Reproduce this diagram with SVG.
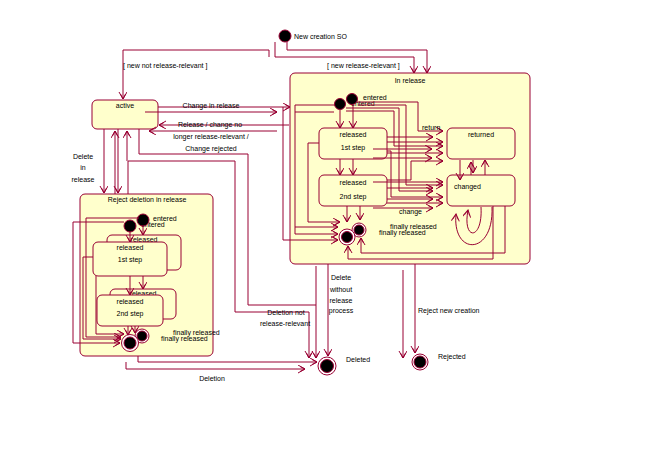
<svg xmlns="http://www.w3.org/2000/svg" width="662" height="465" viewBox="0 0 662 465">
<defs>
<marker id="a" markerWidth="10" markerHeight="10" refX="8" refY="4" orient="auto" markerUnits="userSpaceOnUse"><path d="M1,0 L8,4 L1,8 M3,1.5 L8,4 M3,6.5 L8,4" fill="none" stroke="#990033" stroke-width="1"/></marker>
</defs>
<style>
.s{fill:#FFFFCC;stroke:#990033;stroke-width:1}
.c{fill:none;stroke:#990033;stroke-width:1}
.ca{fill:none;stroke:#990033;stroke-width:1;marker-end:url(#a)}
text{font-family:"Liberation Sans",Arial,sans-serif;font-size:7px;fill:#000}
.m{text-anchor:middle}
.dot{fill:#000;stroke:#990033;stroke-width:1}
.fo{fill:#fff;stroke:#990033;stroke-width:1}
</style>
<rect width="662" height="465" fill="#fff"/>

<g id="initial"><circle class="dot" cx="285" cy="36" r="6"/><text x="294" y="39">New creation SO</text></g>
<g id="active"><rect class="s" x="92" y="100" width="66" height="29" rx="5"/><text class="m" x="125" y="108">active</text></g>

<g id="in_release"><rect class="s" x="290" y="73" width="240" height="191" rx="5"/><text class="m" x="410" y="83">In release</text></g>
<g id="ir_released1"><rect class="s" x="319" y="128" width="68" height="31" rx="5"/><text class="m" x="353" y="137">released</text><text class="m" x="353" y="150">1st step</text></g>
<g id="ir_released2"><rect class="s" x="319" y="175" width="68" height="31" rx="5"/><text class="m" x="353" y="185">released</text><text class="m" x="353" y="199">2nd step</text></g>
<g id="ir_returned"><rect class="s" x="447" y="128" width="68" height="31" rx="5"/><text class="m" x="481" y="137">returned</text></g>
<g id="ir_changed"><rect class="s" x="447" y="175" width="68" height="31" rx="5"/><text x="454" y="189">changed</text></g>
<g id="ir_entry"><text x="363" y="100">entered</text><text x="351" y="106">entered</text><circle class="dot" cx="352" cy="99" r="5.5"/><circle class="dot" cx="340" cy="104" r="5.5"/></g>
<g id="ir_final"><circle class="fo" cx="359" cy="230" r="7"/><circle class="dot" cx="359" cy="230" r="5"/><circle class="fo" cx="347" cy="237" r="8"/><circle class="dot" cx="347" cy="237" r="5.5"/><text x="390" y="229">finally released</text><text x="379" y="235">finally released</text></g>

<g id="reject_deletion"><rect class="s" x="80" y="194" width="133" height="162" rx="5"/><text class="m" x="147" y="202">Reject deletion in release</text></g>
<g id="rd_released1"><rect class="s" x="107" y="235" width="74" height="35" rx="5"/><text class="m" x="144" y="242">released</text><rect class="s" x="93" y="242" width="74" height="34" rx="5"/><text class="m" x="130" y="250">released</text><text class="m" x="130" y="262">1st step</text></g>
<g id="rd_released2"><rect class="s" x="110" y="289" width="66" height="30" rx="5"/><text class="m" x="143" y="296">released</text><rect class="s" x="97" y="295" width="66" height="31" rx="5"/><text class="m" x="130" y="304">released</text><text class="m" x="130" y="316">2nd step</text></g>
<g id="rd_entry"><text x="153" y="221">entered</text><text x="141" y="227">entered</text><circle class="dot" cx="143" cy="220" r="6"/><circle class="dot" cx="130" cy="226" r="6"/></g>
<g id="rd_final"><circle class="fo" cx="142" cy="336" r="7"/><circle class="dot" cx="142" cy="336" r="5"/><circle class="fo" cx="130" cy="343" r="8.5"/><circle class="dot" cx="130" cy="343" r="6"/><text x="173" y="335">finally released</text><text x="161" y="341">finally released</text></g>

<g id="deleted"><circle class="fo" cx="327" cy="366" r="9"/><circle class="dot" cx="327" cy="366" r="6.5"/><text x="346" y="362">Deleted</text></g>
<g id="rejected"><circle class="fo" cx="420" cy="362" r="8"/><circle class="dot" cx="420" cy="362" r="6"/><text x="438" y="359">Rejected</text></g>

<g id="connectors">
<path class="ca" d="M269,57 V50 H123 V99"/>
<path class="ca" d="M275,42 V57 H414 V73"/>
<path class="ca" d="M287,42 V50 H427 V73"/>
<path class="ca" d="M158,107 H290"/>
<path class="ca" d="M145,112 H277"/>
<path class="ca" d="M289,125 H159"/>
<path class="ca" d="M277,131 H149"/>
<path class="ca" d="M104,129 V193"/>
<path class="ca" d="M115,194 V131"/>
<path class="ca" d="M118,129 V193"/>
<path class="ca" d="M127,161 V131"/>
<path class="ca" d="M128,194 V161 H235 V312 H309 V358"/>
<path class="ca" d="M139,129 V154 H248 V305 H316 V358"/>
<path class="c" d="M316,266 V305"/>
<path class="ca" d="M328,264 V356"/>
<path class="ca" d="M403,270 V358"/>
<path class="ca" d="M415,264 V353"/>
<path class="ca" d="M138,356 V362 H317"/>
<path class="ca" d="M126,362 V369 H305"/>

<path class="ca" d="M340,110 V128"/>
<path class="ca" d="M353,105 V128"/>
<path class="ca" d="M340,159 V175"/>
<path class="ca" d="M353,159 V175"/>
<path class="ca" d="M347,206 V222"/>
<path class="ca" d="M360,206 V220"/>
<path class="ca" d="M283,107 V240 H338"/>
<path class="ca" d="M335,105 H295 V234 H338"/>
<path class="c" d="M334,112 H295"/>
<path class="ca" d="M295,227 H338"/>
<path class="ca" d="M319,143 H308 V222 H340"/>

<path class="ca" d="M357,102 H418 V131 H443"/>
<path class="ca" d="M358,105 H406 V185 H443"/>
<path class="ca" d="M346,108 H399 V191 H433"/>
<path class="ca" d="M346,111 H394 V146 H443"/>
<path class="ca" d="M387,137 H433"/>
<path class="ca" d="M387,142 H443"/>
<path class="ca" d="M373,149 H432"/>
<path class="ca" d="M387,153 H443"/>
<path class="ca" d="M373,158 H432"/>
<path class="ca" d="M387,151 H391 V197 H443"/>
<path class="ca" d="M387,180 H411 V161 H443"/>
<path class="ca" d="M373,182 H443"/>
<path class="ca" d="M387,188 H433"/>
<path class="ca" d="M387,199 H433"/>
<path class="ca" d="M387,203 H443"/>
<path class="ca" d="M373,208 H433"/>

<path class="ca" d="M460,160 V180"/>
<path class="ca" d="M473,160 V173"/>
<path class="ca" d="M471,175 V162"/>
<path class="ca" d="M485,175 V160"/>
<path class="ca" d="M492,207 C494,256 452,256 456,214"/>
<path class="ca" d="M481,207 C483,241 462,241 468,210"/>
<path class="ca" d="M493,206 V259 H348 V246"/>
<path class="ca" d="M505,206 V253 H361 V238"/>

<path class="ca" d="M124,222 H73 V343 H120"/>
<path class="ca" d="M139,218 H86 V337 H121"/>
<path class="ca" d="M93,257 H83 V339 H121"/>
<path class="ca" d="M96,276 V334 H124"/>
<path class="ca" d="M130,232 V242"/>
<path class="ca" d="M143,226 V235"/>
<path class="ca" d="M130,276 V295"/>
<path class="ca" d="M143,276 V289"/>
<path class="ca" d="M128,326 V335"/>
<path class="ca" d="M135,326 V333"/>
</g>

<g id="labels">
<text x="123" y="68">[ new not release-relevant ]</text>
<text x="327" y="68">[ new release-relevant ]</text>
<text class="m" x="211" y="108">Change in release</text>
<text class="m" x="210" y="127">Release / change no</text>
<text class="m" x="211" y="139">longer release-relevant /</text>
<text class="m" x="211" y="151">Change rejected</text>
<text class="m" x="83" y="159">Delete</text>
<text class="m" x="83" y="170">in</text>
<text class="m" x="83" y="182">release</text>
<text class="m" x="341" y="280">Delete</text>
<text class="m" x="341" y="292">without</text>
<text class="m" x="341" y="303">release</text>
<text class="m" x="341" y="313">process</text>
<text class="m" x="286" y="315">Deletion not</text>
<text class="m" x="285" y="326">release-relevant</text>
<text x="418" y="313">Reject new creation</text>
<text class="m" x="212" y="381">Deletion</text>
<text x="422" y="130">return</text>
<text x="399" y="214">change</text>
</g>
</svg>
